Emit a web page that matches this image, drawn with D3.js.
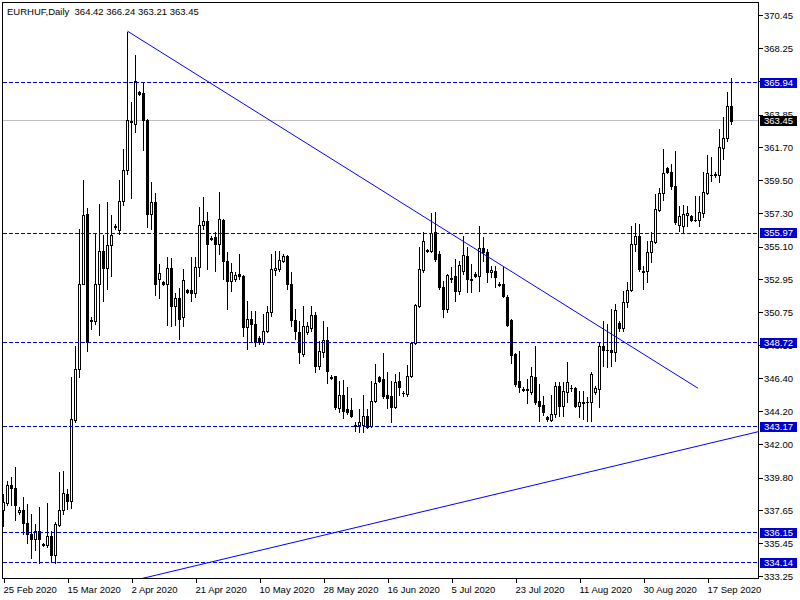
<!DOCTYPE html>
<html><head><meta charset="utf-8">
<script src="https://cdn.jsdelivr.net/npm/d3@7"></script>
<style>
body{margin:0;background:#fff}
svg{display:block}
text{font-family:"Liberation Sans",Arial,sans-serif;font-size:9.5px}
</style>
</head><body><svg id="c" width="800" height="600"></svg>
<script>
const symbol = "EURHUF,Daily";
const headerValues = ["364.42","366.24","363.21","363.45"];
const dateLabels = ["25 Feb 2020","15 Mar 2020","2 Apr 2020","21 Apr 2020","10 May 2020","28 May 2020","16 Jun 2020","5 Jul 2020","23 Jul 2020","11 Aug 2020","30 Aug 2020","17 Sep 2020"];
const dateLabelBars = [0,16,32,48,64,80,96,112,128,144,160,176];
const priceTicks = [370.45,368.25,366.05,363.85,361.70,359.50,357.30,355.10,352.95,350.75,348.55,346.40,344.20,342.00,339.80,337.65,335.45,333.25];
const levels = [365.94,355.97,348.72,343.17,336.15,334.14];
const lastPrice = 363.45;
const trend1 = [[31,369.37],[173.65,345.71]];
const trend2 = [[30,332.82],[190,342.92]];

const open = [337.63,338.09,339.28,339.08,337.49,337.63,336.76,336.03,335.70,336.29,
335.37,335.30,335.90,334.64,336.63,337.63,338.69,338.22,343.59,346.98,
352.61,357.25,350.22,350.16,352.61,354.80,353.67,355.20,356.39,356.19,
358.12,360.17,363.42,363.22,365.34,365.28,363.49,357.25,358.05,352.94,
352.74,352.61,353.67,351.15,351.68,350.42,352.21,352.21,352.02,353.74,
356.52,356.79,355.66,355.73,355.27,356.86,354.14,352.81,352.94,353.27,
353.14,349.76,350.29,349.96,349.03,348.77,349.49,350.75,353.54,353.61,
354.14,354.47,352.61,350.22,349.43,347.97,349.43,349.70,350.55,347.18,
348.10,348.90,346.44,346.51,344.39,345.25,344.32,344.26,343.26,343.26,
343.26,343.86,343.20,344.86,346.44,346.31,345.25,345.18,344.46,346.18,
345.38,345.32,346.51,348.70,351.15,353.54,354.80,354.80,356.06,354.60,
352.41,350.95,353.01,353.14,352.15,353.47,354.47,352.94,353.27,353.14,
355.00,354.73,353.41,353.47,352.61,352.61,351.75,350.22,347.97,346.18,
345.65,345.65,345.45,346.44,344.86,344.59,343.79,343.59,343.99,345.85,
344.52,345.45,345.72,345.72,344.52,344.79,344.79,344.79,345.45,345.65,
348.50,348.24,348.24,348.10,350.02,349.70,351.42,352.21,355.27,355.80,
353.47,353.47,354.73,355.40,357.52,358.65,360.30,360.04,359.11,356.52,
356.46,357.19,357.12,356.86,356.86,357.32,358.65,359.84,359.84,359.84,
361.63,362.29,364.42];
const high = [338.69,339.55,339.81,340.47,337.82,338.49,338.02,337.36,336.69,337.82,
335.43,338.09,336.29,336.83,340.14,340.21,339.02,346.44,348.50,356.26,
359.51,357.65,350.42,355.93,357.92,355.86,358.05,357.19,356.59,359.51,
361.56,369.32,364.68,367.80,365.41,365.94,363.55,359.38,358.65,353.94,
352.81,354.40,354.34,352.02,352.35,353.61,352.28,354.40,354.40,357.72,
358.38,357.39,355.80,356.06,358.71,356.92,354.73,354.00,353.41,354.60,
353.21,351.48,350.82,350.82,349.16,350.62,351.15,354.60,354.80,354.80,
354.60,354.53,353.41,350.95,350.16,351.15,350.09,351.15,350.75,348.84,
350.16,349.76,346.58,346.55,346.18,346.25,345.78,345.05,343.46,344.32,
345.25,344.32,346.18,347.31,346.51,348.04,346.78,346.18,346.65,346.78,
345.52,347.24,348.77,351.28,355.07,356.06,354.93,357.32,357.39,354.80,
352.81,353.27,353.74,354.27,354.14,355.80,355.07,353.94,353.41,356.46,
355.73,354.93,353.81,353.81,352.74,353.74,351.88,350.29,348.04,348.17,
345.78,346.31,347.11,348.50,345.98,345.18,343.86,345.30,346.11,346.11,
346.11,347.44,345.91,345.78,345.52,345.52,345.12,346.78,345.85,348.77,
350.16,349.96,350.95,351.28,350.16,352.15,352.74,356.46,356.66,356.59,
353.81,355.46,356.06,358.58,358.98,361.56,360.37,360.57,361.43,357.78,
357.85,357.78,357.19,358.45,358.45,360.04,361.17,361.03,360.04,362.89,
363.69,365.34,366.24];
const low = [336.56,337.96,337.96,336.96,337.36,336.03,335.43,334.50,334.97,334.17,
335.24,335.23,334.30,334.17,336.56,337.36,337.69,337.76,343.46,346.44,
352.61,348.17,349.63,349.96,349.23,351.48,352.28,353.14,356.26,355.93,
357.85,359.91,358.31,362.69,365.14,361.50,356.39,356.26,351.88,351.68,
352.55,349.89,349.83,349.89,348.97,349.83,352.02,351.48,351.75,353.14,
356.26,353.61,355.53,353.47,354.60,352.94,350.95,352.15,352.81,352.94,
349.16,348.30,348.77,348.50,348.63,348.63,349.43,350.49,353.21,353.47,
354.07,352.28,349.83,348.97,347.37,347.84,349.30,349.50,346.78,346.98,
347.77,346.05,346.31,344.32,344.12,343.73,343.99,343.79,342.87,342.80,
342.80,343.06,343.13,344.79,346.11,345.05,344.39,343.46,344.39,345.25,
345.18,345.18,346.44,348.63,351.09,353.41,354.73,354.73,354.14,352.28,
350.42,350.75,352.74,351.48,351.95,353.27,352.08,352.08,353.07,352.15,
354.14,352.74,353.07,352.41,352.48,351.75,349.83,347.37,345.85,345.45,
345.52,344.72,345.32,344.65,343.53,343.93,343.53,343.53,343.79,343.86,
343.86,344.79,345.52,344.46,343.79,343.66,343.53,343.53,345.32,344.46,
347.18,347.11,347.18,347.51,349.50,349.50,351.09,352.15,354.80,353.47,
352.28,352.74,354.07,355.33,357.45,358.18,359.97,358.91,356.59,356.12,
356.06,356.46,356.79,356.79,356.46,357.05,358.58,359.44,359.71,359.38,
360.90,362.09,363.21];
const close = [338.16,339.28,339.08,337.96,337.63,336.76,336.03,335.70,336.29,335.70,
335.30,335.90,334.64,336.69,337.63,338.75,338.22,343.66,346.98,352.61,
357.19,348.77,350.16,352.61,354.80,353.67,355.20,355.86,356.46,358.12,
360.17,363.49,363.35,366.07,365.21,363.49,357.25,358.05,352.61,353.34,
352.61,353.67,351.15,351.68,350.29,352.88,352.08,352.02,353.74,356.52,
356.79,355.27,355.60,355.27,356.92,354.14,352.81,353.41,353.21,353.14,
349.76,350.29,349.96,348.77,348.77,349.49,350.75,353.61,353.67,354.20,
354.47,352.61,350.22,349.49,348.10,349.83,349.83,350.55,347.18,348.17,
348.90,346.85,346.40,344.46,345.25,344.19,344.12,343.86,343.20,343.46,
343.86,343.13,344.86,346.05,346.18,345.18,345.05,344.46,346.11,345.78,
345.40,346.51,348.70,351.22,353.61,355.46,354.87,355.99,354.27,352.41,
350.95,353.21,352.98,352.15,353.87,354.53,352.94,352.90,353.14,355.00,
354.73,353.41,353.54,353.07,352.58,351.82,349.89,347.90,345.98,345.78,
345.60,345.58,346.51,344.79,344.52,344.12,343.66,343.99,345.85,344.52,
345.52,346.11,345.70,344.52,344.79,344.77,344.82,346.65,345.72,348.50,
348.24,348.22,348.10,350.89,349.70,351.42,352.21,355.27,355.80,353.61,
353.44,354.73,355.46,357.58,358.65,359.97,360.04,359.11,356.72,357.12,
357.25,357.32,356.86,356.84,357.39,358.71,359.97,359.86,359.88,361.70,
362.29,364.41,363.45];

const svg = d3.select("#c");
const W = 800, H = 600;
const plot = {x0:2.5, x1:758.5, y0:2.5, y1:578.5};
const x = d3.scaleLinear().domain([0, open.length-1]).range([3.5, 3.5 + 4*(open.length-1)]);
const y = d3.scaleLinear().domain([333.25, 370.45]).range([576.4, 14.9]);

svg.append("rect").attr("width",W).attr("height",H).attr("fill","#fff");

svg.append("defs").append("clipPath").attr("id","pc")
  .append("rect").attr("x",3).attr("y",3).attr("width",plot.x1-3).attr("height",plot.y1-3);

const g = svg.append("g").attr("clip-path","url(#pc)");
const snap = v => Math.round(v - 0.5) + 0.5;

// last price line (grey)
g.append("line").attr("x1",plot.x0).attr("x2",plot.x1)
  .attr("y1",snap(y(lastPrice))).attr("y2",snap(y(lastPrice)))
  .attr("stroke","#c0c0c0").attr("stroke-width",1).attr("shape-rendering","crispEdges");

// candles
const cg = g.append("g").attr("shape-rendering","crispEdges");
open.forEach((o,i) => {
  const c = close[i];
  const cx = snap(x(i));
  const yh = Math.round(y(high[i])), yl = Math.round(y(low[i]));
  cg.append("line").attr("x1",cx).attr("x2",cx).attr("y1",yh).attr("y2",yl+1)
    .attr("stroke","#000").attr("stroke-width",1);
  const top = Math.round(y(Math.max(o,c))), bot = Math.round(y(Math.min(o,c)));
  if (bot - top < 1) {
    cg.append("line").attr("x1",cx-1.5).attr("x2",cx+1.5).attr("y1",top+0.5).attr("y2",top+0.5)
      .attr("stroke","#000").attr("stroke-width",1);
  } else {
    cg.append("rect").attr("x",cx-1).attr("y",top+0.5).attr("width",2).attr("height",bot-top)
      .attr("fill", c >= o ? "#fff" : "#000").attr("stroke","#000").attr("stroke-width",1);
  }
});

// horizontal levels
g.selectAll(".lvl").data(levels).enter().append("line")
  .attr("x1",plot.x0).attr("x2",plot.x1)
  .attr("y1",d=>snap(y(d))).attr("y2",d=>snap(y(d)))
  .attr("stroke","#0000cd").attr("stroke-width",1).attr("stroke-dasharray","4,2")
  .attr("shape-rendering","crispEdges");

// trend lines
const lineGen = d3.line().x(d=>x(d[0])).y(d=>y(d[1]));
[trend1, trend2].forEach(t => {
  g.append("path").attr("d", lineGen(t)).attr("fill","none")
    .attr("stroke","#0000ff").attr("stroke-width",1);
});

// frame
svg.append("path")
  .attr("d",`M${plot.x0},${plot.y0}H${plot.x1}V${plot.y1}H${plot.x0}Z`)
  .attr("fill","none").attr("stroke","#000").attr("stroke-width",1).attr("shape-rendering","crispEdges");

// x axis
const xa = svg.append("g").attr("transform",`translate(0,${plot.y1})`)
  .call(d3.axisBottom(x).tickValues(dateLabelBars).tickFormat((d,i)=>dateLabels[i]).tickSize(4).tickSizeOuter(0));
xa.select(".domain").remove();
xa.selectAll(".tick line").attr("stroke","#000").attr("shape-rendering","crispEdges");
xa.selectAll("text").attr("text-anchor","start").attr("x",-0.5).attr("y",14).attr("dy","0")
  .attr("fill","#000").style("font-family",'"Liberation Sans",Arial,sans-serif').style("font-size","9.5px");

// y axis (right)
const ya = svg.append("g").attr("transform",`translate(${plot.x1},0)`)
  .call(d3.axisRight(y).tickValues(priceTicks).tickFormat(d3.format(".2f")).tickSize(4).tickSizeOuter(0));
ya.select(".domain").remove();
ya.selectAll(".tick line").attr("stroke","#000").attr("shape-rendering","crispEdges");
ya.selectAll("text").attr("x",5.5).attr("dy","0.34em")
  .attr("fill","#000").style("font-family",'"Liberation Sans",Arial,sans-serif').style("font-size","9.5px");

// level labels
const lab = svg.append("g");
function priceBox(v, bg) {
  const yy = Math.round(y(v));
  lab.append("rect").attr("x",760).attr("y",yy-5).attr("width",37).attr("height",10).attr("fill",bg);
  lab.append("text").attr("x",764).attr("y",yy).attr("dy","0.34em").attr("fill","#fff").text(v.toFixed(2));
}
levels.forEach(v => priceBox(v, "#0000cd"));
priceBox(lastPrice, "#000");

// header
svg.append("text").attr("x",7).attr("y",14.5).attr("fill","#000")
  .attr("xml:space","preserve").style("white-space","pre")
  .text(symbol + "  " + headerValues.join(" "));
</script>
</body></html>
